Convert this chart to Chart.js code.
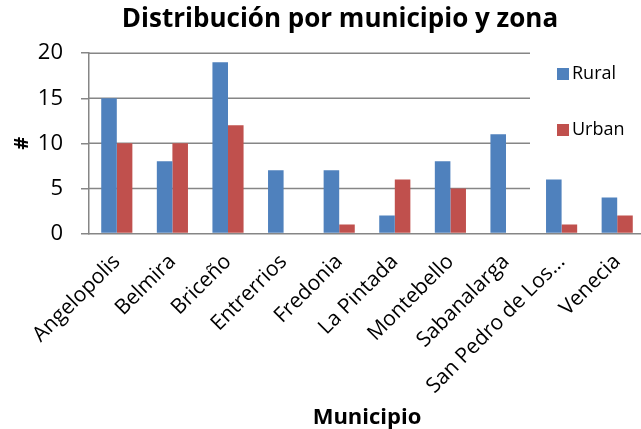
<!DOCTYPE html>
<html>
<head>
<meta charset="utf-8">
<script src="https://cdn.jsdelivr.net/npm/chart.js@4/dist/chart.umd.min.js"></script>
<style>
  html, body { margin: 0; padding: 0; background: #fff; overflow: hidden; }
  #wrap { width: 680px; height: 429px; }
</style>
</head>
<body>
<div id="wrap"><canvas id="zonaChart" width="680" height="429"></canvas></div>
<script>
const municipios = ['Angelopolis', 'Belmira', 'Briceño', 'Entrerrios', 'Fredonia', 'La Pintada', 'Montebello', 'Sabanalarga', 'San Pedro de Los...', 'Venecia'];
const rural = [15, 8, 19, 7, 7, 2, 8, 11, 6, 4];
const urban = [10, 10, 12, 0, 1, 6, 5, 0, 1, 2];
const yTicks = [0, 5, 10, 15, 20];

const FONT = '"Open Sans", sans-serif';
const GRID = '#868686';
const GRID_RIGHT = 530; // excel stops the gridlines where the legend begins

// horizontal gridlines that stop short of the legend
const gridPlugin = {
  id: 'shortGrid',
  afterLayout(chart) {
    // centre the title on the whole canvas, not on the padded area
    chart.titleBlock.left = 0;
    chart.titleBlock.right = chart.width;
  },
  beforeDatasetsDraw(chart) {
    const { ctx, chartArea, scales } = chart;
    ctx.save();
    ctx.strokeStyle = GRID;
    ctx.lineWidth = 1.5;
    scales.y.ticks.forEach((t) => {
      if (t.value === 0) return;
      const y = scales.y.getPixelForValue(t.value);
      ctx.beginPath();
      ctx.moveTo(chartArea.left, y);
      ctx.lineTo(GRID_RIGHT, y);
      ctx.stroke();
    });
    ctx.restore();
  },
};

// legend stacked on the right, drawn over the plot like excel does
const legendPlugin = {
  id: 'sideLegend',
  afterDraw(chart) {
    const { ctx } = chart;
    ctx.save();
    ctx.font = '18px ' + FONT;
    ctx.textBaseline = 'middle';
    chart.data.datasets.forEach((ds, i) => {
      const y = 74 + i * 56;
      ctx.fillStyle = ds.backgroundColor;
      ctx.fillRect(557, y - 6, 12, 12);
      ctx.fillStyle = '#000';
      ctx.fillText(ds.label, 572, y);
    });
    ctx.restore();
  },
};

const ctx = document.getElementById('zonaChart').getContext('2d');
new Chart(ctx, {
  type: 'bar',
  data: {
    labels: municipios,
    datasets: [
      { label: 'Rural', data: rural, backgroundColor: '#4F81BD', categoryPercentage: 0.56, barPercentage: 1 },
      { label: 'Urban', data: urban, backgroundColor: '#C0504D', categoryPercentage: 0.56, barPercentage: 1 },
    ],
  },
  options: {
    responsive: false,
    animation: false,
    layout: { padding: { left: 10, right: 35, top: 4, bottom: -2 } },
    scales: {
      x: {
        // let the slanted labels hang past the plot edge like excel
        afterFit: (scale) => {
          scale.paddingLeft = 0;
          scale.paddingRight = 0;
        },
        grid: { display: false },
        border: { display: true, color: GRID, width: 1.5 },
        ticks: {
          maxRotation: 45,
          minRotation: 45,
          autoSkip: false,
          padding: 8,
          color: '#000',
          font: { family: FONT, size: 21 },
        },
        title: {
          display: true,
          text: 'Municipio',
          color: '#000',
          font: { family: FONT, size: 22, weight: 'bold' },
          padding: { top: -2, bottom: 0 },
        },
      },
      y: {
        min: 0,
        max: 20,
        afterBuildTicks: (axis) => {
          axis.ticks = yTicks.map((v) => ({ value: v }));
        },
        afterFit: (scale) => {
          scale.width = 79;
        },
        grid: { display: true, drawOnChartArea: false, drawTicks: true, tickLength: 8, color: GRID, lineWidth: 1.5 },
        border: { display: true, color: GRID, width: 1.5 },
        ticks: {
          padding: 18,
          color: '#000',
          font: { family: FONT, size: 22 },
        },
        title: {
          display: true,
          text: '#',
          color: '#000',
          font: { family: FONT, size: 20, weight: 'bold' },
          padding: { top: 0, bottom: 2 },
        },
      },
    },
    plugins: {
      legend: { display: false },
      tooltip: { enabled: false },
      title: {
        display: true,
        text: 'Distribución por municipio y zona',
        color: '#000',
        font: { family: FONT, size: 26, weight: 'bold' },
        padding: { top: 0, bottom: 18 },
      },
    },
  },
  plugins: [gridPlugin, legendPlugin],
});
</script>
</body>
</html>
